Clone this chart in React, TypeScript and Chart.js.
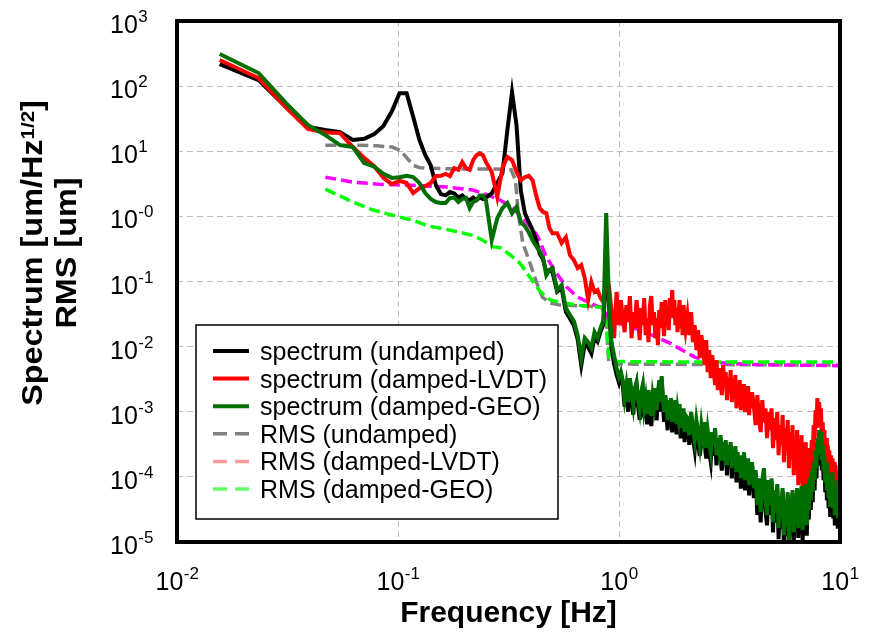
import React, { useEffect, useRef } from 'react';
import { Chart, registerables } from 'chart.js';

Chart.register(...registerables);

// ---------- DATA ----------
const freqHz = [
  // 0.0156 .. 0.5 Hz
  0.0156, 0.0234, 0.0313, 0.0391, 0.0469, 0.0547, 0.0625, 0.0703, 0.0781, 0.0859,
  0.0938, 0.1016, 0.1094, 0.1172, 0.125, 0.1328, 0.1406, 0.1484, 0.1563, 0.1641,
  0.1719, 0.1797, 0.1875, 0.1953, 0.2031, 0.2109, 0.2188, 0.2266, 0.2344, 0.2422,
  0.25, 0.2656, 0.2813, 0.2969, 0.3125, 0.3281, 0.3438, 0.3594, 0.375, 0.3906,
  0.4063, 0.4219, 0.4375, 0.4531, 0.4688, 0.4844, 0.5,
  // 0.525 .. 1.0 Hz
  0.525, 0.55, 0.575, 0.6, 0.625, 0.65, 0.675, 0.7, 0.725, 0.75,
  0.775, 0.8, 0.825, 0.85, 0.875, 0.9, 0.925, 0.95, 0.975, 1.0,
  // 1.02 .. 2.0 Hz
  1.02, 1.04, 1.06, 1.08, 1.1, 1.12, 1.14, 1.16, 1.18, 1.2,
  1.22, 1.24, 1.26, 1.28, 1.3, 1.32, 1.34, 1.36, 1.38, 1.4,
  1.42, 1.44, 1.46, 1.48, 1.5, 1.52, 1.54, 1.56, 1.58, 1.6,
  1.62, 1.64, 1.66, 1.68, 1.7, 1.72, 1.74, 1.76, 1.78, 1.8,
  1.82, 1.84, 1.86, 1.88, 1.9, 1.92, 1.94, 1.96, 1.98, 2.0,
  // 2.04 .. 4.0 Hz
  2.04, 2.08, 2.12, 2.16, 2.2, 2.24, 2.28, 2.32, 2.36, 2.4,
  2.44, 2.48, 2.52, 2.56, 2.6, 2.64, 2.68, 2.72, 2.76, 2.8,
  2.84, 2.88, 2.92, 2.96, 3.0, 3.04, 3.08, 3.12, 3.16, 3.2,
  3.24, 3.28, 3.32, 3.36, 3.4, 3.44, 3.48, 3.52, 3.56, 3.6,
  3.64, 3.68, 3.72, 3.76, 3.8, 3.84, 3.88, 3.92, 3.96, 4.0,
  // 4.075 .. 10 Hz
  4.075, 4.15, 4.225, 4.3, 4.375, 4.45, 4.525, 4.6, 4.675, 4.75,
  4.825, 4.9, 4.975, 5.05, 5.125, 5.2, 5.275, 5.35, 5.425, 5.5, 5.575, 5.65,
  5.725, 5.8, 5.875, 5.95, 6.025, 6.1, 6.175, 6.25, 6.325, 6.4, 6.475, 6.55,
  6.625, 6.7, 6.775, 6.85, 6.925, 7.0, 7.075, 7.15, 7.225, 7.3, 7.375, 7.45,
  7.525, 7.6, 7.675, 7.75, 7.825, 7.9, 7.975, 8.05, 8.125, 8.2, 8.275, 8.35,
  8.425, 8.5, 8.575, 8.65, 8.725, 8.8, 8.875, 8.95, 9.025, 9.1, 9.175,
  9.25, 9.325, 9.4, 9.475, 9.55, 9.625, 9.7, 9.775, 9.85, 9.925, 10.0,
];

const spectrumUndamped = [
  218, 124, 47, 23.5, 21.2, 19.7, 14.9, 15.5, 18.3, 24.4,
  41, 78, 78, 33.5, 14.9, 8.75, 6.1, 3.0, 2.2, 2.1,
  2.36, 2.25, 1.95, 2.1, 1.85, 1.77, 1.95, 1.77, 1.95, 1.85,
  1.95, 2.25, 3.25, 4.6, 21, 81, 25, 2.5, 1.12, 0.82,
  0.62, 0.43, 0.27, 0.22, 0.14, 0.15, 0.14,
  0.07, 0.08, 0.034, 0.027, 0.021, 0.013, 0.0052, 0.011, 0.0098, 0.0078,
  0.014, 0.012, 0.017, 0.022, 0.2, 0.045, 0.0095, 0.0055, 0.0037, 0.0028,
  3.7e-3, 2.6e-3, 1.2e-3, 2.3e-3, 1.0e-3, 3.0e-3, 1.6e-3, 9.0e-4, 2.0e-3, 2.6e-3,
  1.2e-3, 7.5e-4, 1.7e-3, 2.3e-3, 8.0e-4, 1.4e-3, 6.4e-4, 1.9e-3, 1.1e-3, 6.0e-4,
  1.5e-3, 9.0e-4, 2.0e-3, 7.4e-4, 1.6e-3, 2.8e-3, 1.0e-3, 3.2e-3, 1.3e-3, 7.0e-4,
  1.6e-3, 9.0e-4, 5.2e-4, 1.3e-3, 7.0e-4, 1.4e-3, 4.8e-4, 1.05e-3, 6.2e-4, 1.3e-3,
  4.5e-4, 9.0e-4, 5.6e-4, 1.15e-3, 3.9e-4, 8.5e-4, 4.8e-4, 9.8e-4, 3.4e-4, 7.6e-4,
  7.0e-4, 3.1e-4, 9.0e-4, 4.0e-4, 2.6e-4, 6.6e-4, 3.4e-4, 2.1e-4, 5.6e-4, 2.8e-4,
  6.2e-4, 1.9e-4, 4.6e-4, 2.4e-4, 1.7e-4, 4.3e-4, 2.1e-4, 5.0e-4, 1.5e-4, 3.5e-4,
  1.8e-4, 3.9e-4, 1.25e-4, 3.0e-4, 1.7e-4, 3.3e-4, 1.05e-4, 2.7e-4, 1.35e-4, 3.0e-4,
  9.5e-5, 2.3e-4, 1.2e-4, 2.6e-4, 8.2e-5, 2.1e-4, 1.0e-4, 1.9e-4, 6.6e-5, 1.7e-4,
  8.9e-5, 2.1e-4, 6.2e-5, 1.5e-4, 7.7e-5, 1.7e-4, 5.2e-5, 1.35e-4, 6.6e-5, 1.5e-4,
  4.7e-5, 1.15e-4, 2.6e-5, 8.5e-5, 2.0e-5, 7.5e-5, 1.2e-4, 3.1e-5, 1.8e-5, 8.0e-5,
  2.6e-5, 8.5e-5, 1.4e-5, 5.6e-5, 2.0e-5, 7.0e-5, 1.1e-5, 4.5e-5, 1.6e-5, 6.0e-5, 8.5e-6, 3.9e-5,
  1.25e-5, 5.2e-5, 7.5e-6, 3.3e-5, 1.5e-5, 5.6e-5, 1.0e-5, 4.2e-5, 1.8e-5, 6.0e-5, 1.15e-5, 4.7e-5,
  1.5e-5, 6.5e-5, 1.05e-5, 5.2e-5, 1.8e-5, 7.0e-5, 1.25e-5, 5.6e-5, 2.2e-5, 8.5e-5, 3.1e-5, 1.15e-4,
  4.1e-5, 1.5e-4, 6.2e-5, 2.3e-4, 9.5e-5, 3.5e-4, 1.5e-4, 4.7e-4, 1.9e-4, 4.4e-4, 1.25e-4, 2.8e-4,
  8.9e-5, 1.9e-4, 5.8e-5, 1.5e-4, 4.4e-5, 1.2e-4, 3.3e-5, 9.5e-5, 2.6e-5, 8.0e-5, 3.7e-5,
  1.05e-4, 2.3e-5, 6.7e-5, 1.8e-5, 5.6e-5, 2.9e-5, 8.0e-5, 1.6e-5, 5.2e-5, 2.2e-5, 4.7e-5,
];

const spectrumLvdt = [
  252, 133, 46.5, 22, 19.4, 19, 11.6, 7.9, 5.9, 3.9,
  3.13, 3.5, 3.25, 2.28, 2.7, 2.9, 3.25, 4.16, 4.2, 4.5,
  4.16, 5.5, 5.2, 6.8, 5.5, 5.2, 7.3, 8.7, 9.3, 8.7,
  6.8, 4.8, 1.98, 5.5, 8.15, 7.3, 4.8, 3.6, 4.0, 4.2,
  3.6, 2.1, 1.34, 1.17, 1.12, 0.66, 0.55,
  0.55, 0.39, 0.48, 0.254, 0.213, 0.161, 0.179, 0.113, 0.052, 0.098,
  0.069, 0.074, 0.056, 0.048, 0.113, 0.088, 0.036, 0.0135, 0.069, 0.0214,
  0.0518, 0.0274, 0.0167, 0.0434, 0.0238, 0.0597, 0.0135, 0.0339, 0.0192, 0.0518,
  0.0305, 0.0126, 0.039, 0.0214, 0.0556, 0.015, 0.0274, 0.0117, 0.0434, 0.0597,
  0.0214, 0.0339, 0.0135, 0.0274, 0.0105, 0.0364, 0.0192, 0.0483, 0.0255, 0.0145,
  0.0518, 0.0238, 0.0364, 0.0179, 0.0556, 0.0274, 0.0738, 0.0339, 0.0518, 0.0214,
  0.039, 0.0167, 0.0305, 0.0518, 0.0192, 0.0339, 0.015, 0.0434, 0.0238, 0.0179,
  0.0305, 0.015, 0.0339, 0.0117, 0.0214, 8.83e-3, 0.0179, 6.65e-3, 0.015, 9.44e-3,
  5.2e-3, 0.0126, 4.06e-3, 8.83e-3, 3.28e-3, 7.4e-3, 4.68e-3, 2.56e-3, 6.2e-3, 2.15e-3,
  4.68e-3, 3.06e-3, 1.8e-3, 5.2e-3, 2.3e-3, 4.06e-3, 1.51e-3, 3.28e-3, 2.0e-3, 4.36e-3,
  1.41e-3, 2.85e-3, 1.8e-3, 3.65e-3, 1.13e-3, 2.56e-3, 1.62e-3, 3.06e-3, 1.06e-3, 2.3e-3,
  1.41e-3, 2.66e-3, 9.88e-4, 2.0e-3, 1.26e-3, 2.47e-3, 8.87e-4, 1.8e-3, 1.13e-3, 2.0e-3,
  1.26e-3, 6.22e-4, 1.8e-3, 7.97e-4, 4.87e-4, 1.51e-3, 6.92e-4, 1.13e-3, 3.93e-4, 9.88e-4,
  5.22e-4, 1.13e-3, 2.76e-4, 7.97e-4, 3.66e-4, 9.88e-4, 2.15e-4, 6.22e-4, 3.07e-4, 8.87e-4, 1.68e-4, 5.59e-4,
  2.57e-4, 7.43e-4, 1.36e-4, 4.87e-4, 2.15e-4, 6.22e-4, 1.06e-4, 3.93e-4, 1.68e-4, 5.22e-4, 7.46e-5, 3.07e-4,
  1.27e-4, 4.37e-4, 5.82e-5, 2.57e-4, 9.53e-5, 3.41e-4, 4.71e-5, 2.15e-4, 8.29e-5, 2.76e-4, 1.27e-4, 3.66e-4,
  2.15e-4, 6.22e-4, 3.66e-4, 1.06e-3, 5.59e-4, 1.62e-3, 7.97e-4, 1.41e-3, 6.22e-4, 1.13e-3, 3.66e-4, 6.92e-4,
  2.76e-4, 5.22e-4, 1.8e-4, 3.93e-4, 1.18e-4, 3.07e-4, 1.51e-4, 2.57e-4, 8.29e-5, 2.15e-4, 1.06e-4,
  1.93e-4, 6.25e-5, 1.68e-4, 8.9e-5, 1.51e-4, 5.24e-5, 1.27e-4, 6.71e-5, 1.18e-4, 4.39e-5, 9.53e-5,
];

const spectrumGeo = [
  311, 159, 54, 25.3, 17.7, 12.4, 11.6, 6.6, 5.8, 4.5,
  3.9, 4.0, 4.2, 4.0, 3.25, 2.28, 1.85, 1.66, 1.6, 1.6,
  1.92, 1.95, 1.66, 1.85, 1.92, 1.34, 1.66, 1.77, 2.1, 2.1,
  1.77, 0.43, 0.94, 1.34, 1.6, 1.12, 1.4, 0.82, 0.71, 0.57,
  0.43, 0.35, 0.29, 0.235, 0.125, 0.15, 0.16,
  0.074, 0.088, 0.039, 0.0305, 0.0246, 0.015, 0.0067, 0.0135, 0.0117, 0.0095,
  0.0167, 0.0135, 0.0193, 0.0255, 1.12, 0.052, 0.0117, 0.0074, 0.0047, 0.0034,
  4.06e-3, 3.06e-3, 1.62e-3, 2.56e-3, 1.41e-3, 3.28e-3, 2.0e-3, 1.26e-3, 2.3e-3, 2.85e-3,
  1.51e-3, 1.06e-3, 2.0e-3, 2.56e-3, 1.13e-3, 1.62e-3, 9.2e-4, 2.15e-3, 1.41e-3, 8.56e-4,
  1.74e-3, 1.26e-3, 2.3e-3, 1.06e-3, 1.8e-3, 3.06e-3, 1.41e-3, 3.52e-3, 1.62e-3, 9.88e-4,
  1.8e-3, 1.26e-3, 7.43e-4, 1.51e-3, 9.88e-4, 1.62e-3, 6.92e-4, 1.22e-3, 8.87e-4, 1.51e-3,
  6.45e-4, 1.06e-3, 7.97e-4, 1.31e-3, 5.59e-4, 9.88e-4, 6.92e-4, 1.13e-3, 4.87e-4, 8.87e-4,
  7.97e-4, 4.37e-4, 9.88e-4, 5.59e-4, 3.66e-4, 7.43e-4, 4.87e-4, 3.07e-4, 6.22e-4, 3.93e-4,
  6.92e-4, 2.76e-4, 5.22e-4, 3.41e-4, 2.39e-4, 4.87e-4, 3.07e-4, 5.59e-4, 2.15e-4, 3.93e-4,
  2.57e-4, 4.37e-4, 1.8e-4, 3.41e-4, 2.39e-4, 3.66e-4, 1.51e-4, 3.07e-4, 1.93e-4, 3.41e-4,
  1.36e-4, 2.57e-4, 1.68e-4, 2.96e-4, 1.18e-4, 2.39e-4, 1.46e-4, 2.15e-4, 9.53e-5, 1.93e-4,
  1.27e-4, 2.39e-4, 8.9e-5, 1.68e-4, 1.1e-4, 1.93e-4, 7.46e-5, 1.51e-4, 9.53e-5, 1.68e-4,
  6.71e-5, 1.27e-4, 3.68e-5, 9.53e-5, 2.87e-5, 8.29e-5, 1.36e-4, 4.39e-5, 2.58e-5, 8.9e-5,
  3.68e-5, 9.53e-5, 2.01e-5, 6.25e-5, 2.87e-5, 7.73e-5, 1.63e-5, 5.06e-5, 2.32e-5, 6.71e-5, 1.27e-5, 4.39e-5,
  1.81e-5, 5.82e-5, 1.07e-5, 3.68e-5, 2.16e-5, 6.25e-5, 1.42e-5, 4.71e-5, 2.58e-5, 6.71e-5, 1.63e-5, 5.24e-5,
  2.16e-5, 7.2e-5, 1.52e-5, 5.82e-5, 2.58e-5, 7.73e-5, 1.81e-5, 6.25e-5, 3.08e-5, 9.53e-5, 4.39e-5, 1.27e-4,
  5.82e-5, 1.68e-4, 8.9e-5, 2.57e-4, 1.36e-4, 3.93e-4, 2.15e-4, 5.22e-4, 2.76e-4, 4.87e-4, 1.8e-4, 3.07e-4,
  1.27e-4, 2.15e-4, 8.29e-5, 1.68e-4, 6.25e-5, 1.36e-4, 4.71e-5, 1.06e-4, 3.68e-5, 8.9e-5, 5.24e-5,
  1.18e-4, 3.31e-5, 7.46e-5, 2.58e-5, 6.25e-5, 4.09e-5, 8.9e-5, 2.32e-5, 5.82e-5, 3.08e-5, 5.24e-5,
];

const rmsUndampedFreq = [0.0469, 0.0625, 0.08, 0.094, 0.102, 0.109, 0.117, 0.125, 0.133, 0.16, 0.2, 0.25, 0.3, 0.325, 0.34, 0.35, 0.367, 0.396, 0.425, 0.45, 0.488, 0.54, 0.7, 0.843, 0.88, 0.89, 0.9, 1.0, 3.0, 10.0];
const rmsUndamped = [12.4, 12.4, 12.1, 11.6, 10.4, 8.1, 6.1, 5.6, 5.5, 5.4, 5.35, 5.35, 5.3, 5.2, 3.6, 1.12, 0.39, 0.19, 0.094, 0.0575, 0.0466, 0.0434, 0.042, 0.0405, 0.023, 0.0088, 0.0056, 0.0054, 0.0053, 0.0052];

const rmsLvdtFreq = [0.0469, 0.0625, 0.083, 0.117, 0.167, 0.218, 0.242, 0.29, 0.33, 0.38, 0.425, 0.47, 0.52, 0.58, 0.65, 0.74, 0.84, 0.875, 0.9, 1.0, 1.3, 1.7, 2.2, 2.7, 4.0, 10.0];
const rmsLvdt = [4.0, 3.36, 3.1, 3.0, 2.82, 2.54, 2.27, 1.78, 1.35, 0.82, 0.52, 0.237, 0.135, 0.082, 0.0575, 0.0466, 0.039, 0.032, 0.026, 0.023, 0.017, 0.0113, 0.0069, 0.0057, 0.0053, 0.0051];

const rmsGeoFreq = [0.0469, 0.0625, 0.0772, 0.099, 0.117, 0.135, 0.159, 0.19, 0.218, 0.242, 0.27, 0.29, 0.32, 0.357, 0.396, 0.44, 0.488, 0.556, 0.66, 0.84, 0.88, 0.9, 0.98, 2.0, 10.0];
const rmsGeo = [2.62, 1.66, 1.25, 1.0, 0.87, 0.72, 0.65, 0.57, 0.51, 0.43, 0.34, 0.33, 0.26, 0.19, 0.115, 0.07, 0.052, 0.047, 0.043, 0.040, 0.018, 0.0069, 0.0059, 0.0058, 0.0058];

const seriesLabels = [
  'spectrum (undamped)',
  'spectrum (damped-LVDT)',
  'spectrum (damped-GEO)',
  'RMS (undamped)',
  'RMS (damped-LVDT)',
  'RMS (damped-GEO)',
];

const xTickValues = [0.01, 0.1, 1, 10];
const xTickExponents = ['-2', '-1', '0', '1'];
const yTickValues = [1e3, 1e2, 1e1, 1, 1e-1, 1e-2, 1e-3, 1e-4, 1e-5];
const yTickExponents = ['3', '2', '1', '-0', '-1', '-2', '-3', '-4', '-5'];

const xTitle = 'Frequency [Hz]';
const yTitleMain = 'Spectrum [um/Hz';
const yTitleSup = '1/2';
const yTitleEnd = ']';
const yTitleLine2 = 'RMS [um]';

// ---------- STYLE ----------
const FONT = '"Liberation Sans", Arial, Helvetica, sans-serif';
const lineColors = ['#000000', '#ff0000', '#006e00', '#808080', '#ff00ff', '#00ff00'];
const legendColors = ['#000000', '#ff0000', '#006e00', '#808080', '#ff9a9a', '#66ff66'];
const dashedSeries = [false, false, false, true, true, true];

const pts = (xs: number[], ys: number[]) => xs.map((x, i) => ({ x, y: ys[i] }));

function drawPower(ctx: CanvasRenderingContext2D, x: number, y: number, exp: string, align: 'left' | 'center') {
  ctx.font = `25px ${FONT}`;
  const wb = ctx.measureText('10').width;
  ctx.font = `17px ${FONT}`;
  const we = ctx.measureText(exp).width;
  const x0 = align === 'center' ? x - (wb + we) / 2 : x;
  ctx.textAlign = 'left';
  ctx.textBaseline = 'alphabetic';
  ctx.fillStyle = '#000';
  ctx.font = `25px ${FONT}`;
  ctx.fillText('10', x0, y);
  ctx.font = `17px ${FONT}`;
  ctx.fillText(exp, x0 + wb + 0.5, y - 11);
}

const decorPlugin = {
  id: 'decor',
  afterDraw(chart: any) {
    const ctx: CanvasRenderingContext2D = chart.ctx;
    const { chartArea, scales } = chart;
    const xs = scales.x;
    const ys = scales.y;
    ctx.save();

    // frame
    ctx.setLineDash([]);
    ctx.strokeStyle = '#000';
    ctx.lineWidth = 4;
    ctx.strokeRect(chartArea.left, chartArea.top, chartArea.right - chartArea.left, chartArea.bottom - chartArea.top);

    // y tick labels
    yTickValues.forEach((v, i) => {
      const py = ys.getPixelForValue(v);
      drawPower(ctx, 110, py + 12, yTickExponents[i], 'left');
    });
    // x tick labels
    xTickValues.forEach((v, i) => {
      const px = xs.getPixelForValue(v);
      drawPower(ctx, px, 590, xTickExponents[i], 'center');
    });

    // x title
    ctx.fillStyle = '#000';
    ctx.font = `bold 30px ${FONT}`;
    ctx.textAlign = 'center';
    ctx.textBaseline = 'alphabetic';
    ctx.fillText(xTitle, (chartArea.left + chartArea.right) / 2, 622);

    // y title line 1
    ctx.save();
    ctx.translate(42, 253);
    ctx.rotate(-Math.PI / 2);
    ctx.scale(1.08, 1);
    ctx.textAlign = 'left';
    ctx.font = `bold 30px ${FONT}`;
    const wa = ctx.measureText(yTitleMain).width;
    const wc = ctx.measureText(yTitleEnd).width;
    ctx.font = `bold 19px ${FONT}`;
    const wsup = ctx.measureText(yTitleSup).width;
    const x0 = -(wa + wsup + wc) / 2;
    ctx.font = `bold 30px ${FONT}`;
    ctx.fillText(yTitleMain, x0, 0);
    ctx.font = `bold 19px ${FONT}`;
    ctx.fillText(yTitleSup, x0 + wa, -8);
    ctx.font = `bold 30px ${FONT}`;
    ctx.fillText(yTitleEnd, x0 + wa + wsup, 0);
    ctx.restore();

    // y title line 2
    ctx.save();
    ctx.translate(76, 253);
    ctx.rotate(-Math.PI / 2);
    ctx.scale(1.08, 1);
    ctx.textAlign = 'center';
    ctx.font = `bold 30px ${FONT}`;
    ctx.fillText(yTitleLine2, 0, 0);
    ctx.restore();

    // legend
    const bl = 196, bt = 325, br = 558, bb = 519;
    ctx.fillStyle = '#fff';
    ctx.fillRect(bl, bt, br - bl, bb - bt);
    ctx.strokeStyle = '#000';
    ctx.lineWidth = 1.5;
    ctx.strokeRect(bl, bt, br - bl, bb - bt);
    seriesLabels.forEach((label, i) => {
      const base = 360 + i * 27.6;
      const ly = base - 9;
      ctx.beginPath();
      ctx.setLineDash(dashedSeries[i] ? [14, 8] : []);
      ctx.lineWidth = dashedSeries[i] ? 3.5 : 4;
      ctx.strokeStyle = legendColors[i];
      ctx.moveTo(213, ly);
      ctx.lineTo(249, ly);
      ctx.stroke();
      ctx.setLineDash([]);
      ctx.fillStyle = '#000';
      ctx.font = `25px ${FONT}`;
      ctx.textAlign = 'left';
      ctx.textBaseline = 'alphabetic';
      ctx.fillText(label, 260, base);
    });

    ctx.restore();
  },
};

export default function App() {
  const canvasRef = useRef<HTMLCanvasElement | null>(null);

  useEffect(() => {
    document.body.style.margin = '0';
    const canvas = canvasRef.current;
    if (!canvas) return;

    const spectra = [spectrumUndamped, spectrumLvdt, spectrumGeo];
    const rmsX = [rmsUndampedFreq, rmsLvdtFreq, rmsGeoFreq];
    const rmsY = [rmsUndamped, rmsLvdt, rmsGeo];
    const orders = [2, 1, 0, 5, 4, 3];

    const datasets: any[] = [];
    spectra.forEach((s, i) => {
      datasets.push({
        label: seriesLabels[i],
        data: pts(freqHz, s),
        borderColor: lineColors[i],
        backgroundColor: lineColors[i],
        borderWidth: 4,
        pointRadius: 0,
        tension: 0,
        fill: false,
        borderJoinStyle: 'miter',
        order: orders[i],
        clip: 0,
      });
    });
    rmsY.forEach((r, i) => {
      datasets.push({
        label: seriesLabels[i + 3],
        data: pts(rmsX[i], r),
        borderColor: lineColors[i + 3],
        backgroundColor: lineColors[i + 3],
        borderWidth: 3.5,
        borderDash: [11, 5],
        pointRadius: 0,
        tension: 0,
        fill: false,
        order: orders[i + 3],
        clip: 0,
      });
    });

    const gridDash = [6, 4];
    const chart = new Chart(canvas, {
      type: 'line',
      data: { datasets },
      options: {
        animation: false,
        responsive: false,
        maintainAspectRatio: false,
        events: [],
        layout: { padding: { top: 21, right: 30, left: 0, bottom: 0 } },
        plugins: {
          legend: { display: false },
          tooltip: { enabled: false },
        },
        scales: {
          x: {
            type: 'logarithmic',
            min: 0.01,
            max: 10,
            afterBuildTicks: (s: any) => {
              s.ticks = xTickValues.map((v) => ({ value: v }));
            },
            afterFit: (s: any) => {
              s.height = 98;
            },
            ticks: { display: false },
            grid: { color: '#bdbdbd', lineWidth: 1, drawTicks: false },
            border: { display: false, dash: gridDash },
          },
          y: {
            type: 'logarithmic',
            min: 1e-5,
            max: 1e3,
            afterBuildTicks: (s: any) => {
              s.ticks = yTickValues.map((v) => ({ value: v }));
            },
            afterFit: (s: any) => {
              s.width = 177;
            },
            ticks: { display: false },
            grid: { color: '#bdbdbd', lineWidth: 1, drawTicks: false },
            border: { display: false, dash: gridDash },
          },
        },
      } as any,
      plugins: [decorPlugin],
    });

    return () => chart.destroy();
  }, []);

  return (
    <div style={{ position: 'fixed', left: 0, top: 0, width: 870, height: 640, background: '#fff' }}>
      <canvas ref={canvasRef} width={870} height={640} style={{ width: 870, height: 640, display: 'block' }} />
    </div>
  );
}
